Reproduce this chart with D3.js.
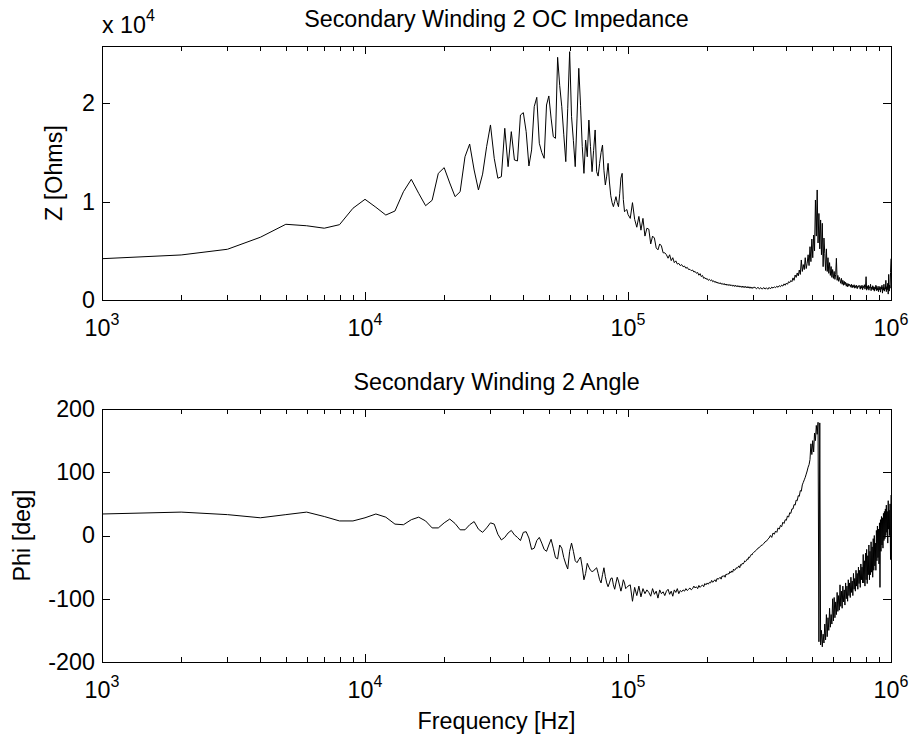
<!DOCTYPE html>
<html>
<head>
<meta charset="utf-8">
<script src="https://cdn.jsdelivr.net/npm/d3@7"></script>
<style>
  html, body { margin: 0; padding: 0; background: #fff; }
  svg { display: block; }
  text { font-family: Arial, "Liberation Sans", Helvetica, sans-serif; fill: #000; }
</style>
</head>
<body>
<svg id="chart" width="910" height="742"></svg>
<script>
// Sweep frequencies in kHz
const freqKHz = [
  1,2,3,4,5,6,7,8,9,10,
  11,12,13,14,15,16,17,18,19,20,
  21,22,23,24,25,26,27,28,29,30,
  31,32,33,34,35,36,37,38,39,40,
  41,42,43,44,45,46,47,48,49,50,
  51,52,53,54,55,56,57,58,59,60,
  61,62,63,64,65,66,67,68,69,70,
  71,72,73,74,75,76,77,78,79,80,
  81,82,83,84,85,86,87,88,89,90,
  91,92,93,94,95,96,97,98,99,100,
  102,104,106,108,110,112,114,116,118,120,
  122,124,126,128,130,132,134,136,138,140,
  142,144,146,148,150,152,154,156,158,160,
  162,164,166,168,170,172,174,176,178,180,
  182,184,186,188,190,192,194,196,198,200,
  202,204,206,208,210,212,214,216,218,220,
  222,224,226,228,230,232,234,236,238,240,
  242,244,246,248,250,252,254,256,258,260,
  262,264,266,268,270,272,274,276,278,280,
  282,284,286,288,290,292,294,296,298,300,
  304,308,312,316,320,324,328,332,336,340,
  344,348,352,356,360,364,368,372,376,380,
  384,388,392,396,400,404,408,412,416,420,
  424,428,432,436,440,444,448,452,456,460,
  464,468,472,476,480,484,488,492,496,500,
  504,508,512,516,520,524,528,532,536,540,
  544,548,552,556,560,564,568,572,576,580,
  584,588,592,596,600,604,608,612,616,620,
  624,628,632,636,640,644,648,652,656,660,
  664,668,672,676,680,684,688,692,696,700,
  704,708,712,716,720,724,728,732,736,740,
  744,748,752,756,760,764,768,772,776,780,
  784,788,792,796,800,804,808,812,816,820,
  824,828,832,836,840,844,848,852,856,860,
  864,868,872,876,880,884,888,892,896,900,
  904,908,912,916,920,924,928,932,936,940,
  944,948,952,956,960,964,968,972,976,980,
  984,988,992,996,1000
];

// Open-circuit impedance magnitude, Ohms
const impedanceOhm = [
  4200,4580,5160,6380,7700,7550,7300,7660,9330,10240,
  9430,8640,9050,11010,12270,10850,9590,10140,12880,13460,
  11900,10510,11010,14570,15860,13220,11190,12800,15590,17800,
  14410,12380,12540,17460,13560,17120,14240,14140,18810,19050,
  17120,13630,15260,19660,20610,15940,15000,14410,19830,20750,
  18500,16610,16440,24680,21800,19660,16800,14070,19500,25250,
  18640,16200,13560,18500,23560,19800,15600,12880,16270,14570,
  18300,15600,13050,15200,17290,13050,12600,13900,15000,15760,
  13200,11700,12600,13900,12000,10600,9900,9490,10000,10510,
  9900,9490,10800,12400,12880,10200,8980,9100,9200,8700,
  8300,9900,8200,7400,8500,7100,8300,6500,7300,7200,
  5700,6500,6300,5300,5100,5700,5500,4800,4800,4600,
  4250,4600,4000,4300,3800,3980,3650,3720,3500,3600,
  3380,3450,3230,3320,3100,3120,2980,3050,2850,2900,
  2720,2800,2520,2680,2380,2500,2200,2280,2120,2180,
  2000,2100,1960,2050,1860,1950,1780,1880,1720,1800,
  1650,1760,1610,1700,1560,1680,1520,1630,1490,1600,
  1460,1580,1440,1540,1400,1530,1380,1500,1360,1470,
  1330,1450,1310,1430,1290,1420,1270,1400,1260,1380,
  1240,1360,1220,1350,1200,1330,1190,1310,1180,1290,
  1290,1140,1300,1120,1260,1100,1270,1110,1240,1090,
  1280,1130,1310,1210,1340,1250,1400,1290,1460,1350,
  1520,1410,1640,1500,1720,1600,1860,1760,1980,1860,
  2250,2000,2540,2300,2750,2450,3050,2600,4070,2900,
  3600,3100,4300,3200,3730,4600,3500,5420,3900,6200,
  4300,6610,5000,10170,6500,11190,5800,8800,5200,8140,
  4600,7800,3390,6300,4750,3000,5200,2900,4300,2710,
  3800,2500,3400,2300,3100,2200,2900,2100,2600,4240,
  2000,2500,1900,2300,2030,1700,2200,1600,2000,1500,
  1900,1550,1800,1400,1700,1350,1650,1400,1600,1525,
  1300,1600,1250,1500,1300,1550,1200,1450,1250,1500,
  1150,1400,1300,1500,1350,1100,1450,1200,1500,1050,
  1400,1250,1550,1100,1300,2370,1000,1400,1150,1500,
  1000,1350,1200,1600,950,1300,1100,1450,1017,1350,
  900,1300,1100,1500,950,1400,1000,1250,850,1400,
  1050,1300,800,1350,1100,1500,700,1300,1000,1600,
  900,1250,1100,2000,850,1350,1050,1700,600,2600,
  900,1500,1200,2800,4200
];

// Impedance phase angle, degrees
const phaseDeg = [
  34,37,33,28,33,37,30,23,23,28,
  34,29,18,17,25,29,23,12,12,20,
  26,19,9,9,17,22,10,5,12,20,
  18,2,-7,-3,4,8,1,-3,-8,5,
  6,-4,-22,-20,-8,-3,-12,-22,-25,-15,
  -6,-20,-35,-37,-15,-20,-35,-45,-53,-25,
  -12,-25,-40,-43,-38,-34,-50,-70,-60,-44,
  -50,-55,-57,-56,-53,-51,-60,-70,-75,-62,
  -51,-65,-75,-81,-75,-68,-67,-78,-85,-75,
  -66,-72,-80,-88,-80,-70,-75,-84,-82,-80,
  -78,-104,-82,-95,-80,-97,-84,-92,-86,-90,
  -96,-84,-93,-88,-99,-86,-92,-89,-95,-88,
  -85,-93,-88,-96,-86,-90,-84,-92,-87,-89,
  -86,-88,-84,-87,-85,-83,-86,-84,-80,-83,
  -81,-84,-79,-82,-80,-78,-81,-76,-78,-75,
  -77,-74,-75,-71,-74,-72,-70,-73,-68,-69,
  -68,-66,-69,-64,-65,-63,-66,-61,-62,-60,
  -61,-57,-59,-56,-58,-53,-55,-54,-51,-52,
  -50,-48,-51,-46,-47,-44,-45,-43,-40,-41,
  -40,-37,-38,-34,-35,-32,-30,-31,-28,-27,
  -25,-23,-20,-19,-16,-15,-13,-10,-9,-6,
  -4,0,-3,4,2,7,5,12,10,16,
  14,21,19,25,24,31,29,36,35,42,
  42,49,48,56,55,63,62,71,70,80,
  84,88,92,97,102,108,112,120,145,128,
  150,132,162,150,174,160,179,-168,178,-173,
  -150,-176,-156,-170,-140,-165,-125,-160,-130,-150,
  -115,-145,-125,-140,-100,-135,-98,-130,-105,-125,
  -90,-120,-95,-118,-78,-112,-88,-115,-80,-105,
  -86,-110,-75,-100,-80,-104,-70,-95,-75,-98,
  -66,-90,-72,-95,-60,-85,-68,-88,-55,-80,
  -60,-85,-50,-76,-55,-82,-45,-70,-50,-75,
  -30,-75,-40,-80,-28,-70,-22,-76,-32,-62,
  -15,-70,-25,-62,-10,-58,-18,-66,-5,-55,
  0,-48,-12,-55,8,-40,15,-35,10,-45,
  20,-82,25,-25,30,-15,28,-20,35,-8,
  38,-5,42,0,48,5,38,-12,55,10,
  40,0,50,-38,64
];

// Axis ticks and labels
const decadeTicks = [1e3, 1e4, 1e5, 1e6];
const decadeExponents = ["3", "4", "5", "6"];
const zTicks = [0, 10000, 20000];
const zTickLabels = ["0", "1", "2"];
const zMultiplierExponent = "4";
const phiTicks = [-200, -100, 0, 100, 200];
const titles = ["Secondary Winding 2 OC Impedance", "Secondary Winding 2 Angle"];
const yLabels = ["Z [Ohms]", "Phi [deg]"];
const xLabel = "Frequency [Hz]";

// ---- layout ----
const FONT = 23.3, SUP = 16;
const left = 102, right = 891;
const panels = [
  { top: 46, bottom: 300, labelX: 61.5 },
  { top: 409, bottom: 662, labelX: 29.5 }
];

const svg = d3.select("#chart");
svg.append("rect").attr("width", 910).attr("height", 742).attr("fill", "#fff");

const x = d3.scaleLog().domain([1e3, 1e6]).range([left, right]);
const yZ = d3.scaleLinear().domain([0, 25830]).range([panels[0].bottom, panels[0].top]);
const yPhi = d3.scaleLinear().domain([-200, 200]).range([panels[1].bottom, panels[1].top]);

const minorTicks = [];
[1e3, 1e4, 1e5].forEach(d => { for (let k = 2; k <= 9; k++) minorTicks.push(d * k); });

const rows = freqKHz.map((f, i) => ({ f: f * 1000, z: impedanceOhm[i], phi: phaseDeg[i] }));

function drawPanel(p, y, yTickVals, yTickFmt, accessor, title, yLabel) {
  const g = svg.append("g");

  // data trace
  const line = d3.line().x(d => x(d.f)).y(d => y(accessor(d)));
  g.append("path")
    .datum(rows)
    .attr("fill", "none")
    .attr("stroke", "#000")
    .attr("stroke-width", 1)
    .attr("stroke-linejoin", "miter")
    .attr("d", line);

  const strip = sel => sel.call(s => s.select(".domain").remove())
    .call(s => s.selectAll(".tick line").attr("stroke", "#000").attr("shape-rendering", "crispEdges"));

  // inward x ticks on bottom and top edges
  g.append("g").attr("transform", `translate(0,${p.bottom})`)
    .call(d3.axisBottom(x).tickValues(minorTicks).tickSize(-5).tickFormat("")).call(strip);
  g.append("g").attr("transform", `translate(0,${p.bottom})`)
    .call(d3.axisBottom(x).tickValues(decadeTicks).tickSize(-8).tickFormat("")).call(strip);
  g.append("g").attr("transform", `translate(0,${p.top})`)
    .call(d3.axisTop(x).tickValues(minorTicks).tickSize(-5).tickFormat("")).call(strip);
  g.append("g").attr("transform", `translate(0,${p.top})`)
    .call(d3.axisTop(x).tickValues(decadeTicks).tickSize(-8).tickFormat("")).call(strip);

  // inward y ticks on left (labelled) and right edges
  const ya = g.append("g").attr("transform", `translate(${left},0)`)
    .call(d3.axisLeft(y).tickValues(yTickVals).tickSize(-8).tickPadding(7).tickFormat(yTickFmt))
    .call(strip);
  ya.selectAll("text").attr("font-size", FONT).attr("font-family", null).attr("fill", "#000");
  g.append("g").attr("transform", `translate(${right},0)`)
    .call(d3.axisRight(y).tickValues(yTickVals).tickSize(-8).tickFormat("")).call(strip);

  // axes box
  g.append("rect")
    .attr("x", left + 0.5).attr("y", p.top + 0.5)
    .attr("width", right - left).attr("height", p.bottom - p.top)
    .attr("fill", "none").attr("stroke", "#000").attr("stroke-width", 1);

  // decade labels 10^n
  decadeTicks.forEach((t, i) => {
    const txt = g.append("text")
      .attr("x", x(t)).attr("y", p.bottom + 36)
      .attr("text-anchor", "middle").attr("font-size", FONT);
    txt.append("tspan").text("10");
    txt.append("tspan").attr("font-size", SUP).attr("dy", -11).text(decadeExponents[i]);
  });

  // title
  g.append("text")
    .attr("x", (left + right) / 2).attr("y", p.top - 19.5)
    .attr("text-anchor", "middle").attr("font-size", FONT).text(title);

  // y label
  g.append("text")
    .attr("transform", `translate(${p.labelX},${(p.top + p.bottom) / 2}) rotate(-90)`)
    .attr("text-anchor", "middle").attr("font-size", FONT).text(yLabel);

  return g;
}

drawPanel(panels[0], yZ, zTicks, (d, i) => zTickLabels[i], d => d.z, titles[0], yLabels[0]);
drawPanel(panels[1], yPhi, phiTicks, d => String(d), d => d.phi, titles[1], yLabels[1]);

// scale multiplier above the impedance axis
const mult = svg.append("text").attr("x", left).attr("y", 33).attr("font-size", FONT);
mult.append("tspan").text("x 10");
mult.append("tspan").attr("font-size", SUP).attr("dy", -12).text(zMultiplierExponent);

// x axis label
svg.append("text")
  .attr("x", (left + right) / 2).attr("y", 729)
  .attr("text-anchor", "middle").attr("font-size", FONT).text(xLabel);
</script>
</body>
</html>
